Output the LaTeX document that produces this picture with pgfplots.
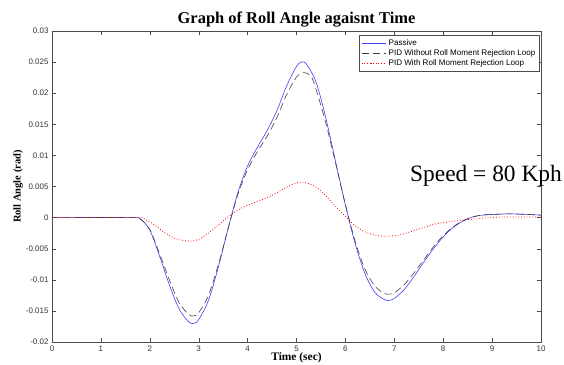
\documentclass[border=0pt]{standalone}
\usepackage{pgfplots}
\pgfplotsset{compat=1.18}
\usepackage{fontspec}
\setmainfont{Liberation Serif}
\newfontfamily\arial{Liberation Sans}
\begin{document}
\begin{tikzpicture}
\begin{axis}[
  name=ax,
  scale only axis,
  clip mode=individual,
  width=489bp, height=311bp,
  xmin=0, xmax=10, ymin=-0.02, ymax=0.03,
  xtick={0,1,...,10},
  ytick={-0.02,-0.015,...,0.031},
  scaled y ticks=false,
  yticklabel style={/pgf/number format/fixed,/pgf/number format/precision=3},
  /pgf/number format/assume math mode=true,
  tick label style={font=\arial\fontsize{8}{9}\selectfont, text=black!80},
  tick align=inside,
  major tick length=4bp,
  axis line style={black!70},
  every tick/.style={black!70},
  title={\bfseries\fontsize{16.5}{18}\selectfont Graph of Roll Angle agaisnt Time},
  title style={yshift=-6bp},
  xlabel={\bfseries\fontsize{11.5}{13}\selectfont Time (sec)},
  ylabel={\bfseries\fontsize{10.5}{12}\selectfont Roll Angle (rad)},
  xlabel style={yshift=5bp},
  ylabel style={yshift=-4bp},
  legend style={at={(0.997,0.987)}, anchor=north east, font=\arial\fontsize{8.1}{9}\selectfont,
    draw=black!70, fill=white, row sep=-1.2bp, inner sep=2bp},
  legend cell align=left,
  legend image post style={xscale=1.45},
]
\addplot[blue!75!white, line width=0.6pt, smooth] coordinates {
(0,0)(1.6,0)(1.8,-0.0002)(2.0,-0.002)(2.2,-0.0062)(2.4,-0.0108)(2.6,-0.0147)(2.8,-0.0168)(2.9,-0.017)(3.0,-0.0164)(3.2,-0.0133)(3.4,-0.0080)(3.6,-0.0018)(3.8,0.0040)(4.0,0.0083)(4.2,0.0113)(4.4,0.0140)(4.6,0.0172)(4.8,0.0212)(5.0,0.0243)(5.1,0.0250)(5.2,0.0247)(5.4,0.0218)(5.6,0.0160)(5.8,0.0090)(6.0,0.0020)(6.2,-0.0042)(6.4,-0.0090)(6.6,-0.0120)(6.8,-0.0132)(6.9,-0.0133)(7.0,-0.0130)(7.2,-0.0116)(7.4,-0.0095)(7.6,-0.0072)(7.8,-0.0050)(8.0,-0.0031)(8.2,-0.0016)(8.4,-0.0006)(8.6,0.0001)(8.8,0.0004)(9.0,0.0005)(9.4,0.0006)(10,0.0004)
};
\addlegendentry{Passive}
\addplot[black!75, line width=0.6pt, dash pattern=on 7bp off 4bp, smooth] coordinates {
(0,0)(1.6,0)(1.8,-0.0002)(2.0,-0.0019)(2.2,-0.0058)(2.4,-0.0100)(2.6,-0.0137)(2.8,-0.0156)(2.9,-0.0158)(3.0,-0.0153)(3.2,-0.0125)(3.4,-0.0076)(3.6,-0.0018)(3.8,0.0037)(4.0,0.0077)(4.2,0.0106)(4.4,0.0131)(4.6,0.0161)(4.8,0.0198)(5.0,0.0226)(5.15,0.0233)(5.3,0.0227)(5.4,0.0206)(5.6,0.0152)(5.8,0.0087)(6.0,0.0021)(6.2,-0.0038)(6.4,-0.0083)(6.6,-0.0110)(6.8,-0.0122)(6.9,-0.0123)(7.0,-0.0121)(7.2,-0.0108)(7.4,-0.0089)(7.6,-0.0068)(7.8,-0.0047)(8.0,-0.0029)(8.2,-0.0015)(8.4,-0.0005)(8.6,0.0001)(8.8,0.0004)(9.0,0.0005)(9.4,0.0006)(10,0.0004)
};
\addlegendentry{PID Without Roll Moment Rejection Loop}
\addplot[red, line width=0.8pt, dotted, smooth] coordinates {
(0,0)(1.7,0)(1.9,-0.0003)(2.1,-0.0012)(2.3,-0.0024)(2.5,-0.0033)(2.7,-0.0037)(2.8,-0.0038)(3.0,-0.0035)(3.2,-0.0025)(3.4,-0.0012)(3.6,0.0001)(3.8,0.0012)(4.0,0.0020)(4.2,0.0026)(4.4,0.0032)(4.6,0.0040)(4.8,0.0049)(5.0,0.0056)(5.1,0.0057)(5.2,0.0056)(5.4,0.0049)(5.6,0.0035)(5.8,0.0018)(6.0,0.0002)(6.2,-0.0013)(6.4,-0.0023)(6.6,-0.0028)(6.8,-0.0030)(7.0,-0.0029)(7.2,-0.0026)(7.4,-0.0021)(7.6,-0.0016)(7.8,-0.0011)(8.0,-0.0008)(8.4,-0.0004)(8.8,-0.0001)(9.2,0.0001)(10,0.0001)
};
\addlegendentry{PID With Roll Moment Rejection Loop}
\node[anchor=base, font=\fontsize{23.5}{26}\selectfont, inner sep=0pt] at (axis cs:8.875,0.00588) {Speed = 80 Kph};
\end{axis}
\pgfresetboundingbox
\path ([xshift=-52bp,yshift=-23bp]ax.south west) rectangle ([xshift=23bp,yshift=31bp]ax.north east);
\end{tikzpicture}
\end{document}
